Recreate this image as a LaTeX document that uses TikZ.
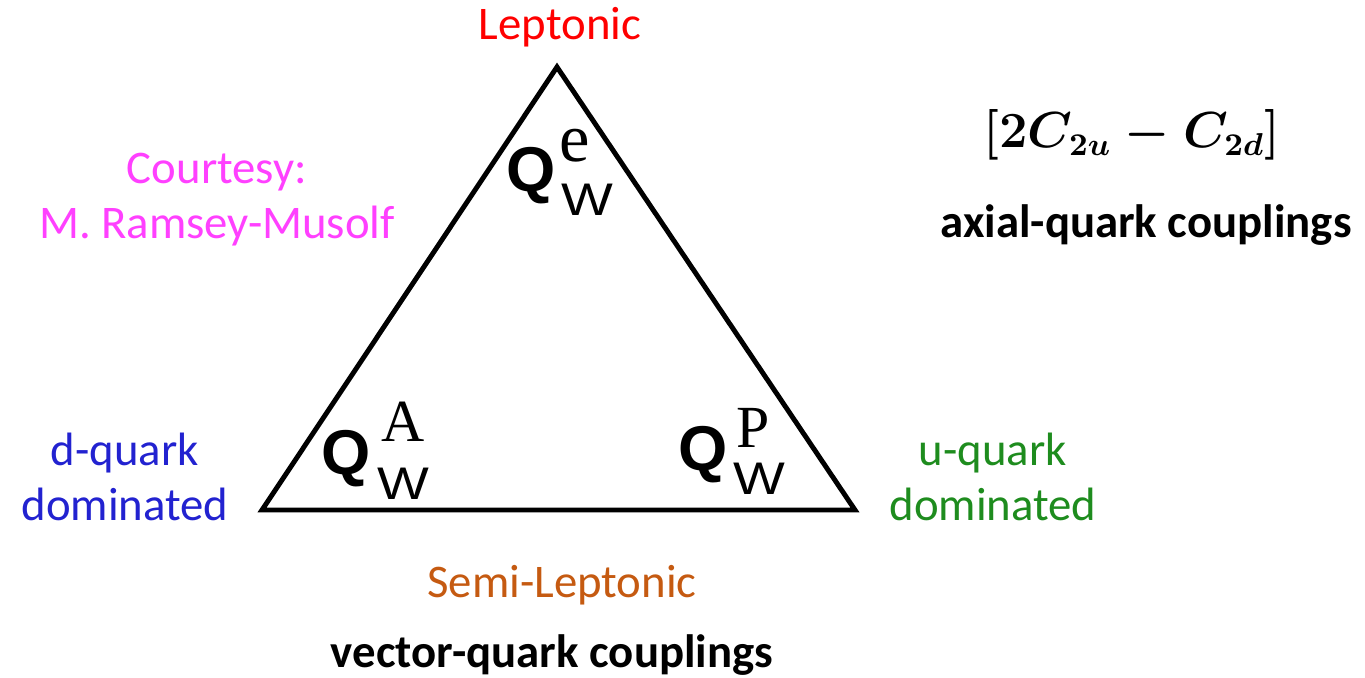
\documentclass[tikz,border=0pt]{standalone}
\usepackage{fontspec}
\usepackage{graphicx}
\setmainfont{Carlito}
\newfontfamily\qfont{Liberation Sans}
\newfontfamily\supfont{Liberation Serif}
\usetikzlibrary{positioning}

\definecolor{leptred}{RGB}{255,0,0}
\definecolor{courtmag}{RGB}{255,64,255}
\definecolor{dblue}{RGB}{34,34,208}
\definecolor{ugreen}{RGB}{30,140,30}
\definecolor{semiorange}{RGB}{197,90,17}

\begin{document}
\begin{tikzpicture}[
    x=0.01cm, y=-0.01cm,
    lbl/.style={inner sep=0pt, align=center, font=\fontsize{13.3}{15.6}\selectfont},
    boldlbl/.style={lbl, font=\fontsize{13.3}{15.6}\selectfont\bfseries},
    mathlbl/.style={inner sep=0pt, font=\fontsize{13.5}{13.5}\selectfont\boldmath},
    qsym/.style={inner sep=0pt, font=\qfont\bfseries\fontsize{18}{18}\selectfont},
    qsup/.style={inner sep=0pt, font=\supfont\fontsize{17}{17}\selectfont},
    qsub/.style={inner sep=0pt, font=\qfont\fontsize{13}{13}\selectfont},
    edge/.style={line width=1.4pt, line join=miter}
]
    \useasboundingbox (0,0) rectangle (1365,678);

    % triangle corners
    \coordinate (top) at (557,67);
    \coordinate (bl) at (262,510);
    \coordinate (br) at (855,510);
    \draw[edge] (top) -- (bl) -- (br) -- cycle;

    % weak charges
    \node[qsym] (qe) at (531,176) {Q};
    \node[qsup, font=\supfont\fontsize{19.5}{19.5}\selectfont] (qesup) at (575,146) {e};
    \node[qsub] (qesub) at (587,200) {\scalebox{1.2}[1]{W}};

    \node[qsym] (qa) at (346,459) {Q};
    \node[qsup] (qasup) at (403,422) {A};
    \node[qsub] (qasub) at (403,484) {\scalebox{1.2}[1]{W}};

    \node[qsym] (qp) at (703,455) {Q};
    \node[qsup] (qpsup) at (753,428) {P};
    \node[qsub] (qpsub) at (759,479) {\scalebox{1.2}[1]{W}};

    % labels
    \node[lbl, text=leptred] (lept) at (560,27) {Leptonic};
    \node[lbl, text=courtmag] (court) at (217,200) {Courtesy:\\M. Ramsey-Musolf};
    \node[lbl, text=dblue] (dq) at (125,477) {d-quark\\dominated};
    \node[lbl, text=ugreen] (uq) at (993,477) {u-quark\\dominated};
    \node[lbl, text=semiorange] (semi) at (562,585) {Semi-Leptonic};
    \node[boldlbl] (vec) at (552,655) {vector-quark couplings};
    \node[mathlbl] (comb) at (1132,135) {$\left[2C_{2u}-C_{2d}\right]$};
    \node[boldlbl] (axial) at (1146,225) {axial-quark couplings};
\end{tikzpicture}
\end{document}
